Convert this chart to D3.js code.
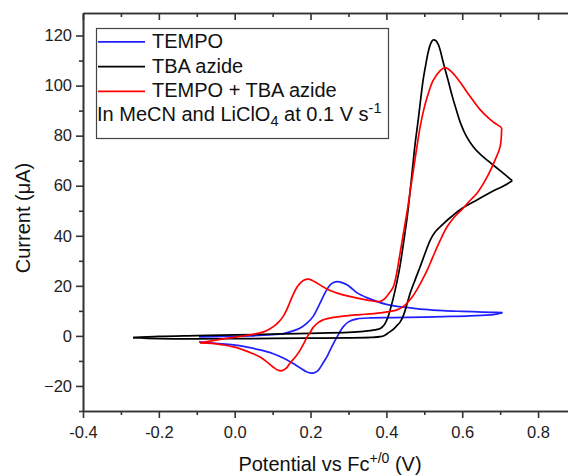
<!DOCTYPE html>
<html>
<head>
<meta charset="utf-8">
<script src="https://cdn.jsdelivr.net/npm/d3@7"></script>
<style>
  body { margin: 0; background: #fff; }
  svg { display: block; font-family: Arial, "Liberation Sans", sans-serif; }
  .axis path, .axis line { stroke: #333; stroke-width: 1.6; }
  .axis text { font-size: 16.5px; fill: #222; }
</style>
</head>
<body>
<svg id="chart" width="568" height="476"></svg>
<script>
// potential (V), current (uA); each scan split into forward / reverse branch
var tempo_fwd = [[-0.094,-0.4],[-0.02,-0.2],[0.04,0],[0.10,0.5],[0.128,0.9],[0.15,1.8],[0.173,3.2],[0.19,5],[0.207,7.8],[0.22,11.5],[0.233,15.6],[0.243,18.5],[0.252,20.4],[0.262,21.4],[0.27,21.7],[0.283,21.3],[0.297,20.3],[0.31,18.8],[0.323,17.2],[0.35,15.2],[0.376,13.7],[0.40,12.6],[0.428,11.8],[0.463,11.2],[0.50,10.6],[0.55,10.1],[0.60,9.8],[0.64,9.6],[0.68,9.4],[0.706,9.3]];
var tempo_rev = [[-0.094,-2.4],[-0.05,-3.0],[-0.004,-3.6],[0.03,-4.4],[0.067,-5.6],[0.10,-7.0],[0.128,-8.8],[0.152,-10.8],[0.173,-12.8],[0.188,-14.2],[0.199,-14.8],[0.209,-14.8],[0.217,-14.2],[0.225,-12.8],[0.233,-10.8],[0.243,-8.4],[0.252,-5.6],[0.262,-2.6],[0.27,-0.4],[0.278,1.8],[0.286,3.6],[0.30,5.6],[0.323,6.8],[0.36,7.2],[0.418,7.3],[0.50,7.5],[0.55,7.7],[0.62,8.0],[0.682,8.5],[0.706,9.3]];

var azide_fwd = [[-0.268,-0.7],[-0.2,-0.2],[-0.1,0.1],[0,0.4],[0.1,0.7],[0.2,1.0],[0.3,1.4],[0.34,1.8],[0.37,2.4],[0.384,3.0],[0.395,4.6],[0.403,7],[0.41,10.4],[0.418,15],[0.427,21],[0.436,28],[0.446,38],[0.455,47.6],[0.462,57],[0.469,67],[0.476,77],[0.484,86.4],[0.49,94],[0.497,102.4],[0.504,108.5],[0.51,113.2],[0.516,116.5],[0.523,118.2],[0.53,118],[0.537,116.4],[0.543,113.5],[0.55,109.2],[0.562,102.5],[0.574,95.6],[0.585,90],[0.595,85.2],[0.61,80],[0.629,75.6],[0.65,72.2],[0.674,69.2],[0.70,66],[0.72,63.5],[0.732,62]];
var azide_rev = [[-0.268,-0.7],[-0.2,-1.1],[-0.1,-1.2],[0,-1.1],[0.1,-1.0],[0.2,-0.9],[0.3,-0.8],[0.36,-0.6],[0.384,-0.3],[0.395,0.2],[0.405,1.2],[0.418,2.6],[0.427,4],[0.436,5.5],[0.445,8.2],[0.454,12.5],[0.463,17.2],[0.476,22.5],[0.489,27.6],[0.502,33],[0.516,38.4],[0.53,41.8],[0.55,44.8],[0.568,47.2],[0.6,51],[0.64,54.4],[0.68,57.8],[0.71,60],[0.732,62]];

var mix_fwd = [[-0.091,-2.8],[-0.046,-1.6],[0.006,-0.4],[0.04,0.4],[0.067,1.2],[0.085,2.2],[0.101,3.6],[0.115,5.4],[0.128,7.8],[0.137,10.4],[0.146,13.6],[0.155,16.8],[0.165,19.6],[0.176,21.6],[0.188,22.6],[0.198,22.6],[0.21,21.7],[0.233,19.6],[0.25,18.2],[0.27,17.1],[0.30,15.9],[0.323,15.1],[0.35,14.3],[0.37,13.8],[0.384,13.8],[0.395,14.8],[0.405,16.6],[0.418,19.5],[0.427,25],[0.436,33],[0.446,42],[0.455,50],[0.463,58],[0.471,66],[0.48,75],[0.489,83.5],[0.498,90],[0.508,95.6],[0.523,102],[0.542,106],[0.555,107.2],[0.574,105.2],[0.595,101.2],[0.621,95.6],[0.647,90.4],[0.674,86.4],[0.69,84.6],[0.704,83.2]];
var mix_rev = [[-0.091,-2.8],[-0.06,-3.0],[-0.031,-3.6],[0.0,-4.5],[0.022,-5.6],[0.045,-6.9],[0.067,-8.4],[0.085,-10.4],[0.101,-12.4],[0.113,-13.6],[0.125,-13.9],[0.136,-12.9],[0.146,-10.8],[0.16,-8.4],[0.173,-5.6],[0.183,-2.8],[0.191,-0.4],[0.199,1.4],[0.207,3.4],[0.22,5.3],[0.233,6.4],[0.26,7.4],[0.305,8.2],[0.331,8.5],[0.384,9.2],[0.428,10.4],[0.445,11.8],[0.455,13.2],[0.468,15.5],[0.481,18.6],[0.495,22.5],[0.508,26.4],[0.521,31],[0.534,35.6],[0.547,39.8],[0.56,43.6],[0.58,47.6],[0.6,50.6],[0.62,54],[0.64,57.2],[0.666,63.6],[0.687,70.4],[0.70,75.6],[0.704,83.2]];

var series_names = ["TEMPO", "TBA azide", "TEMPO + TBA azide"];
var series_colors = ["#1f1fff", "#000000", "#ff0000"];

var x_ticks = [-0.4, -0.2, 0.0, 0.2, 0.4, 0.6, 0.8];
var x_minor = [-0.3, -0.1, 0.1, 0.3, 0.5, 0.7, 0.9];
var y_ticks = [-20, 0, 20, 40, 60, 80, 100, 120];
var y_minor = [-30, -10, 10, 30, 50, 70, 90, 110];

var svg = d3.select("#chart");

var xScale = d3.scaleLinear().domain([-0.4, 0.9]).range([83, 576]);
var yScale = d3.scaleLinear().domain([-30, 129]).range([411, 13]);

function fmtX(d) { return d.toFixed(1); }

// axes
svg.append("g").attr("class", "axis")
   .attr("transform", "translate(0,411)")
   .call(d3.axisBottom(xScale).tickValues(x_ticks).tickFormat(fmtX).tickSize(7).tickSizeOuter(0).tickPadding(8));
svg.append("g").attr("class", "axis")
   .attr("transform", "translate(0,411)")
   .call(d3.axisBottom(xScale).tickValues(x_minor).tickFormat("").tickSize(4).tickSizeOuter(0));
svg.append("g").attr("class", "axis")
   .attr("transform", "translate(0,13)")
   .call(d3.axisTop(xScale).tickValues(x_ticks).tickFormat("").tickSize(-7).tickSizeOuter(0));
svg.append("g").attr("class", "axis")
   .attr("transform", "translate(0,13)")
   .call(d3.axisTop(xScale).tickValues(x_minor).tickFormat("").tickSize(-4).tickSizeOuter(0));
svg.append("g").attr("class", "axis")
   .attr("transform", "translate(83,0)")
   .call(d3.axisLeft(yScale).tickValues(y_ticks).tickSize(7).tickSizeOuter(0).tickPadding(4));
svg.append("g").attr("class", "axis")
   .attr("transform", "translate(83,0)")
   .call(d3.axisLeft(yScale).tickValues(y_minor).tickFormat("").tickSize(4).tickSizeOuter(0));

// curves
var line = d3.line()
    .x(function(d) { return xScale(d[0]); })
    .y(function(d) { return yScale(d[1]); })
    .curve(d3.curveCatmullRom.alpha(0.5));

var branches = [
  [tempo_fwd, 0], [tempo_rev, 0],
  [azide_fwd, 1], [azide_rev, 1],
  [mix_fwd, 2], [mix_rev, 2]
];
svg.append("g").selectAll("path")
   .data(branches)
   .enter()
   .append("path")
   .attr("d", function(d) { return line(d[0]); })
   .attr("fill", "none")
   .attr("stroke", function(d) { return series_colors[d[1]]; })
   .attr("stroke-width", 1.7);

// legend
var legend = svg.append("g");
legend.append("rect")
      .attr("x", 96.5).attr("y", 28.5)
      .attr("width", 292).attr("height", 110)
      .attr("fill", "#fff").attr("stroke", "#444").attr("stroke-width", 1.2);

legend.selectAll(".item")
      .data(series_names)
      .enter()
      .append("g")
      .each(function(d, i) {
        var g = d3.select(this);
        var yy = 41.8 + i * 24.8;
        g.append("line")
         .attr("x1", 98).attr("x2", 145)
         .attr("y1", yy).attr("y2", yy)
         .attr("stroke", series_colors[i]).attr("stroke-width", 1.8);
        g.append("text")
         .attr("x", 152).attr("y", yy + 6)
         .attr("font-size", 20).attr("fill", "#111")
         .text(d);
      });

var note = legend.append("text")
      .attr("x", 97).attr("y", 121)
      .attr("font-size", 20).attr("fill", "#111");
note.append("tspan").text("In MeCN and LiClO");
note.append("tspan").attr("font-size", 14.5).attr("dy", 5).text("4");
note.append("tspan").attr("dy", -5).text(" at 0.1 V s");
note.append("tspan").attr("font-size", 14.5).attr("dy", -8).text("-1");

// axis titles
var xt = svg.append("text")
    .attr("x", 330).attr("y", 471)
    .attr("text-anchor", "middle")
    .attr("font-size", 20).attr("fill", "#111");
xt.append("tspan").text("Potential vs Fc");
xt.append("tspan").attr("font-size", 14).attr("dy", -8).text("+/0");
xt.append("tspan").attr("dy", 8).text(" (V)");

svg.append("text")
   .attr("transform", "translate(30,218) rotate(-90)")
   .attr("text-anchor", "middle")
   .attr("font-size", 20).attr("fill", "#111")
   .text("Current (\u03bcA)");
</script>
</body>
</html>
